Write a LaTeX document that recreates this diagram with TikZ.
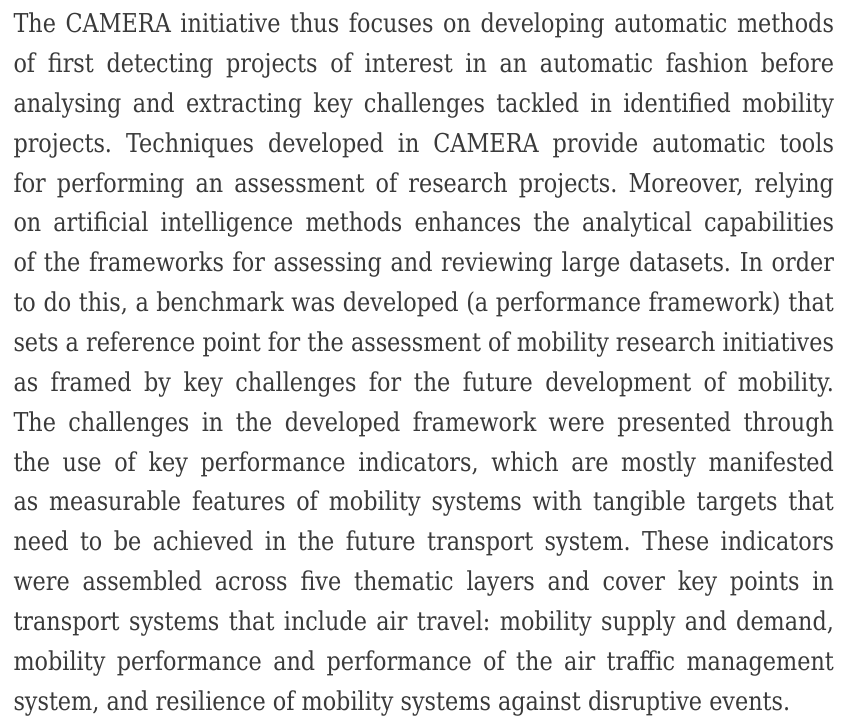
\documentclass[tikz,border=0pt]{standalone}
\usepackage{fontspec}
\setmainfont{DejaVu Serif}
\newfontfamily\probefont{DejaVu Serif}
\definecolor{ink}{RGB}{58,58,58}
\frenchspacing

% Paragraph lines, set one per row
\def\parlineA{The CAMERA initiative thus focuses on developing automatic methods}
\def\parlineB{of first detecting projects of interest in an automatic fashion before}
\def\parlineC{analysing and extracting key challenges tackled in identified mobility}
\def\parlineD{projects. Techniques developed in CAMERA provide automatic tools}
\def\parlineE{for performing an assessment of research projects. Moreover, relying}
\def\parlineF{on artificial intelligence methods enhances the analytical capabilities}
\def\parlineG{of the frameworks for assessing and reviewing large datasets. In order}
\def\parlineH{to do this, a benchmark was developed (a performance framework) that}
\def\parlineI{sets a reference point for the assessment of mobility research initiatives}
\def\parlineJ{as framed by key challenges for the future development of mobility.}
\def\parlineK{The challenges in the developed framework were presented through}
\def\parlineL{the use of key performance indicators, which are mostly manifested}
\def\parlineM{as measurable features of mobility systems with tangible targets that}
\def\parlineN{need to be achieved in the future transport system. These indicators}
\def\parlineO{were assembled across five thematic layers and cover key points in}
\def\parlineP{transport systems that include air travel: mobility supply and demand,}
\def\parlineQ{mobility performance and performance of the air traffic management}
\def\parlineR{system, and resilience of mobility systems against disruptive events.}

% Find the widest justified line and condense the face so it fits the measure
\newdimen\maxlinewd
\maxlinewd=0pt
\def\measureline#1{\setbox0\hbox{\probefont\fontsize{26}{39.85}\selectfont #1}%
  \ifdim\wd0>\maxlinewd \global\maxlinewd=\wd0 \fi}
\measureline{\parlineA}\measureline{\parlineB}\measureline{\parlineC}
\measureline{\parlineD}\measureline{\parlineE}\measureline{\parlineF}
\measureline{\parlineG}\measureline{\parlineH}\measureline{\parlineI}
\measureline{\parlineJ}\measureline{\parlineK}\measureline{\parlineL}
\measureline{\parlineM}\measureline{\parlineN}\measureline{\parlineO}
\measureline{\parlineP}\measureline{\parlineQ}
\edef\widthratio{\fpeval{round(820.5pt/(\the\maxlinewd),4)}}
\edef\loadbodyfont{\noexpand\newfontfamily\noexpand\bodyfont[FakeStretch=\widthratio]{DejaVu Serif}}
\loadbodyfont

\newcommand\jline[1]{\makebox[820.5pt][s]{#1}}

\tikzset{
  textline/.style={anchor=base west, inner sep=0pt, outer sep=0pt, text=ink,
    font=\bodyfont\fontsize{26}{39.85}\selectfont}
}

\begin{document}
\begin{tikzpicture}[x=1pt,y=1pt]
  \useasboundingbox (0,0) rectangle (854,717);
  \fill[white] (0,0) rectangle (854,717);
  \node[textline] (l1)  at (13.5,684.30) {\jline{\parlineA}};
  \node[textline] (l2)  at (13.5,644.45) {\jline{\parlineB}};
  \node[textline] (l3)  at (13.5,604.60) {\jline{\parlineC}};
  \node[textline] (l4)  at (13.5,564.75) {\jline{\parlineD}};
  \node[textline] (l5)  at (13.5,524.90) {\jline{\parlineE}};
  \node[textline] (l6)  at (13.5,485.05) {\jline{\parlineF}};
  \node[textline] (l7)  at (13.5,445.20) {\jline{\parlineG}};
  \node[textline] (l8)  at (13.5,405.35) {\jline{\parlineH}};
  \node[textline] (l9)  at (13.5,365.50) {\jline{\parlineI}};
  \node[textline] (l10) at (13.5,325.65) {\jline{\parlineJ}};
  \node[textline] (l11) at (13.5,285.80) {\jline{\parlineK}};
  \node[textline] (l12) at (13.5,245.95) {\jline{\parlineL}};
  \node[textline] (l13) at (13.5,206.10) {\jline{\parlineM}};
  \node[textline] (l14) at (13.5,166.25) {\jline{\parlineN}};
  \node[textline] (l15) at (13.5,126.40) {\jline{\parlineO}};
  \node[textline] (l16) at (13.5,86.55)  {\jline{\parlineP}};
  \node[textline] (l17) at (13.5,46.70)  {\jline{\parlineQ}};
  \node[textline] (l18) at (13.5,6.85)   {\parlineR};
\end{tikzpicture}
\end{document}
